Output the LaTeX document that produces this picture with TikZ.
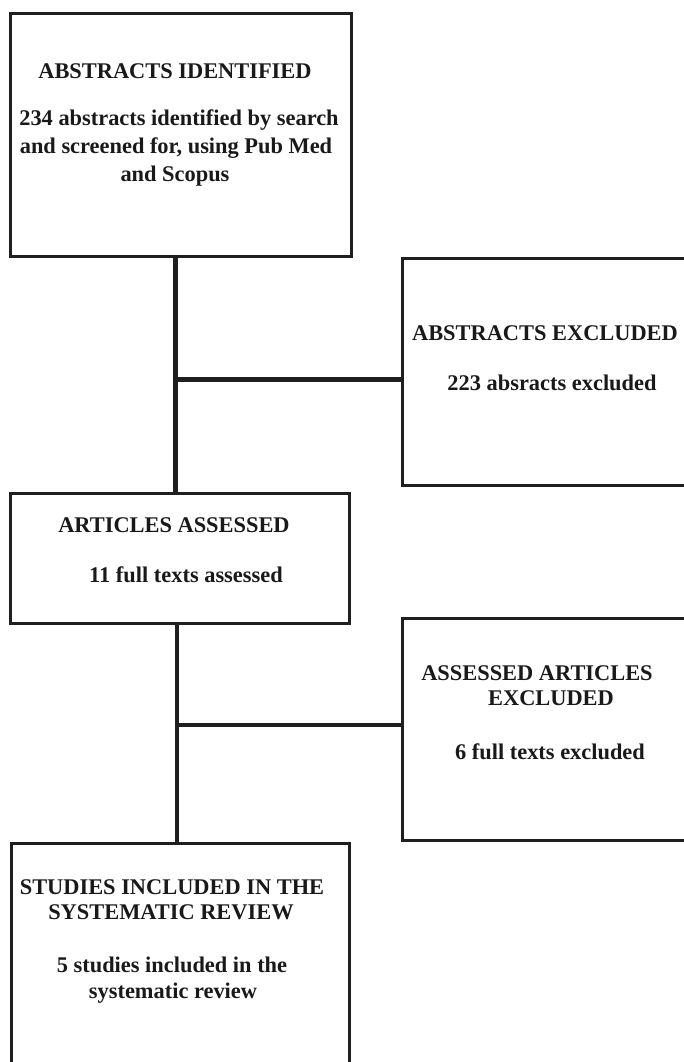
\documentclass[tikz,border=0pt]{standalone}
\usepackage{fontspec}
\setmainfont{Liberation Serif}
\begin{document}
\begin{tikzpicture}[x=1pt,y=-1pt,
  box/.style={draw=black!88, line width=3pt, rectangle, inner sep=0pt},
  conn/.style={draw=black!88, line width=4.5pt},
  lbl/.style={inner sep=0pt, font=\fontsize{22.4}{26}\selectfont\bfseries, text=black!90, anchor=center}]
\useasboundingbox (0,0) rectangle (684,1062);
\clip (0,0) rectangle (684,1062);
% boxes
\node[box, minimum width=341pt, minimum height=242pt] (b1) at (180.5,135) {};
\node[box, minimum width=320pt, minimum height=227pt] (b2) at (562,371.5) {};
\node[box, minimum width=339pt, minimum height=130pt] (b3) at (179.5,558) {};
\node[box, minimum width=320pt, minimum height=222pt] (b4) at (562,729) {};
\node[box, minimum width=338pt, minimum height=260pt] (b5) at (180,973) {};
% connectors
\coordinate (j1) at (175.5,379.5);
\coordinate (j2) at (177,725);
\draw[conn] (b1.south -| j1) -- (b3.north -| j1);
\draw[conn] (j1) -- (j1 -| b2.west);
\draw[conn] (b3.south -| j2) -- (b5.north -| j2);
\draw[conn] (j2) -- (j2 -| b4.west);
% texts
\node[lbl] (t1a) at (175,71) {ABSTRACTS IDENTIFIED};
\node[lbl] (t1b) at (179,120) {234 abstracts identified by search};
\node[lbl] (t1c) at (176,148) {and screened for, using Pub Med};
\node[lbl] (t1d) at (175,176) {and Scopus};
\node[lbl] (t2a) at (545,333) {ABSTRACTS EXCLUDED};
\node[lbl] (t2b) at (552,383) {223 absracts excluded};
\node[lbl] (t3a) at (174,525) {ARTICLES ASSESSED};
\node[lbl] (t3b) at (186,575) {11 full texts assessed};
\node[lbl] (t4a) at (537,673) {ASSESSED ARTICLES};
\node[lbl] (t4b) at (551,698) {EXCLUDED};
\node[lbl] (t4c) at (550,752) {6 full texts excluded};
\node[lbl] (t5a) at (172,887) {STUDIES INCLUDED IN THE};
\node[lbl] (t5b) at (171,912) {SYSTEMATIC REVIEW};
\node[lbl] (t5c) at (172,965) {5 studies included in the};
\node[lbl] (t5d) at (173,993) {systematic review};
\end{tikzpicture}
\end{document}
